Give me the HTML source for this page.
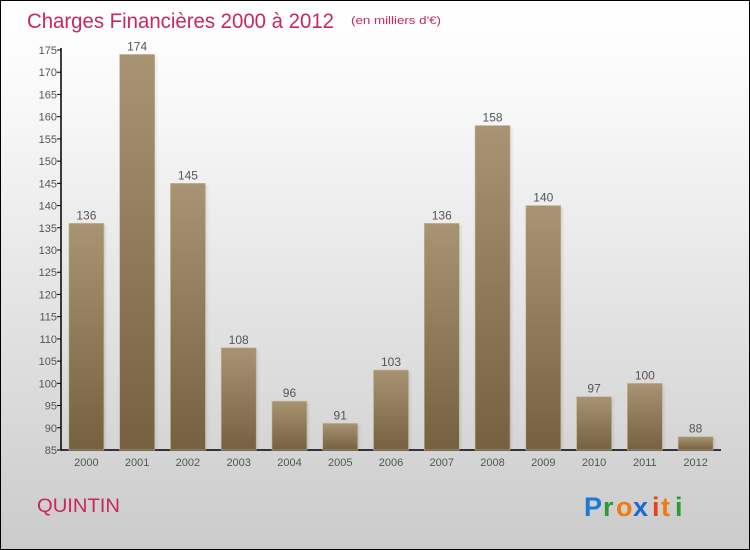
<!DOCTYPE html>
<html><head><meta charset="utf-8"><style>
html,body{margin:0;padding:0}
body{width:750px;height:550px;overflow:hidden;font-family:"Liberation Sans",sans-serif}
#wrap{position:relative;width:748px;height:548px;border:1px solid #000;background:linear-gradient(#fff,#fafafa 15%,#cbcbcb)}
</style></head><body>
<div id="wrap">
<svg id="chart" width="748" height="548" style="position:absolute;left:0;top:0">
<defs>
<linearGradient id="bg" x1="0" y1="0" x2="0" y2="1"><stop offset="0" stop-color="#a89472"/><stop offset="1" stop-color="#75603f"/></linearGradient>
<linearGradient id="bs" x1="0" y1="0" x2="1" y2="0"><stop offset="0" stop-color="#000" stop-opacity="0.08"/><stop offset="1" stop-color="#000" stop-opacity="0"/></linearGradient>
</defs>
<text x="26" y="27" font-size="21" fill="#c8285e" textLength="307" lengthAdjust="spacingAndGlyphs">Charges Financières 2000 à 2012</text>
<text x="350" y="23" font-size="11" fill="#c8285e" textLength="90" lengthAdjust="spacingAndGlyphs">(en milliers d'€)</text>
<text x="36" y="511" font-size="19" fill="#c8285e" textLength="83" lengthAdjust="spacingAndGlyphs">QUINTIN</text>
<g font-size="27" font-weight="bold" font-family="'Liberation Sans',sans-serif">
<text x="583" y="515" fill="#1a7ad4">P</text><text x="602" y="515" fill="#2a9a3a">r</text><text x="615" y="515" fill="#f07a10">o</text><text x="632" y="515" fill="#1a6ad0">x</text><text x="651" y="515" fill="#e8401a">i</text><text x="660" y="515" fill="#f07a10">t</text><text x="674" y="515" fill="#2a9a3a">i</text>
</g>
<g id="axes"></g><g id="bars"></g>
</svg>
</div>
<script>
const years=["2000","2001","2002","2003","2004","2005","2006","2007","2008","2009","2010","2011","2012"];
const values=[136,174,145,108,96,91,103,136,158,140,97,100,88];
const yTicks=[85,90,95,100,105,110,115,120,125,130,135,140,145,150,155,160,165,170,175];
const NS="http://www.w3.org/2000/svg";
const x0=60,x1=720,yMin=85,yMax=175,yBot=449,yTop=49;
const band=(x1-x0)/years.length, bw=35;
const y=v=>yBot-(v-yMin)/(yMax-yMin)*(yBot-yTop);
const xc=i=>x0+band*(i+0.5);
function mk(tag,attrs,parent){const e=document.createElementNS(NS,tag);for(const k in attrs)e.setAttribute(k,attrs[k]);parent.appendChild(e);return e;}
const ax=document.getElementById('axes'),bars=document.getElementById('bars');
let l=mk('line',{x1:x0,y1:y(yMax)-2,x2:x0,y2:yBot,stroke:'#000','stroke-width':1.5},ax);


l=mk('line',{x1:x0,y1:yBot,x2:x1,y2:yBot,stroke:'#000','stroke-width':1.5},ax);


yTicks.forEach(t=>{
 mk('line',{x1:x0-4,y1:y(t),x2:x0,y2:y(t),stroke:'#000'},ax);
 const tx=mk('text',{x:x0-4,y:y(t)+4,'font-size':11,fill:'#555','text-anchor':'end'},ax);
 tx.textContent=t;
 
 
});
years.forEach((yr,i)=>{
 const v=values[i],cx=xc(i);
 const r=mk('rect',{x:cx-bw/2,y:y(v),width:bw,height:yBot-y(v),fill:'url(#bg)',stroke:'#c9b89a','stroke-width':0.6},bars);
 
 
 mk('rect',{x:cx+bw/2,y:y(v)+2,width:4,height:yBot-y(v)-2,fill:'url(#bs)'},bars);
 const vt=mk('text',{x:cx,y:y(v)-4,'font-size':12,fill:'#555','text-anchor':'middle'},bars);
 vt.textContent=v;
 
 
 const xt=mk('text',{x:cx,y:yBot+16,'font-size':11,fill:'#555','text-anchor':'middle'},ax);
 xt.textContent=yr;
 
 
});
</script>
</body></html>
